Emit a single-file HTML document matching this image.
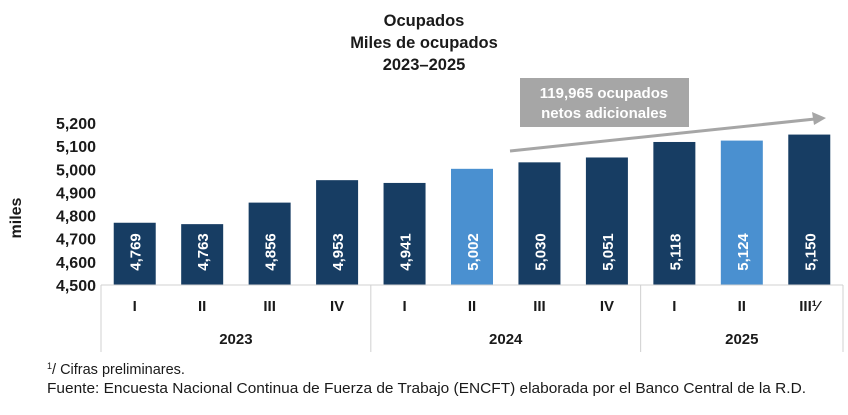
<!DOCTYPE html>
<html><head><meta charset="utf-8"><style>
body{margin:0;background:#fff;font-family:"Liberation Sans",Arial,sans-serif}
svg text{font-family:"Liberation Sans",Arial,sans-serif}
</style></head><body>
<svg width="848" height="410" viewBox="0 0 848 410">
<g font-weight="bold" font-size="16.5" fill="#1a1a1a" text-anchor="middle">
<text x="424" y="26">Ocupados</text>
<text x="424" y="48">Miles de ocupados</text>
<text x="424" y="70">2023–2025</text>
</g>
<text transform="translate(21,218) rotate(-90)" text-anchor="middle" font-weight="bold" font-size="16" fill="#1a1a1a">miles</text>
<g id="yticks"></g>
<g id="bars"></g>
<g id="xaxis"></g>
<g>
<line x1="510" y1="151" x2="815" y2="119" stroke="#a6a6a6" stroke-width="3"/>
<polygon points="826,118 812,112 814,125" fill="#a6a6a6"/>
<rect x="520" y="78" width="169" height="49" fill="#a6a6a6"/>
<text x="604" y="98" text-anchor="middle" font-weight="bold" font-size="15" fill="#fff">119,965 ocupados</text>
<text x="604" y="118" text-anchor="middle" font-weight="bold" font-size="15" fill="#fff">netos adicionales</text>
</g>
<g font-size="14.5" fill="#1a1a1a">
<text x="47" y="374"><tspan font-size="9" dy="-5">1</tspan><tspan dy="5">/ Cifras preliminares.</tspan></text>
<text x="47" y="393" textLength="759" lengthAdjust="spacingAndGlyphs">Fuente: Encuesta Nacional Continua de Fuerza de Trabajo (ENCFT) elaborada por el Banco Central de la R.D.</text>
</g>
</svg>
<script>
const categories=["I","II","III","IV","I","II","III","IV","I","II","III¹⁄"];
const values=[4769,4763,4856,4953,4941,5002,5030,5051,5118,5124,5150];
const highlight=[false,false,false,false,false,true,false,false,false,true,false];
const years=["2023","2024","2025"];
const yearCounts=[4,4,3];
const yTicks=[4500,4600,4700,4800,4900,5000,5100,5200];
const NS="http://www.w3.org/2000/svg";
const x0=101,x1=843,yMin=4500,yMax=5200,pyBot=285,pyTop=123;
const slot=(x1-x0)/values.length;
const y=v=>pyBot-(v-yMin)/(yMax-yMin)*(pyBot-pyTop);
const xc=i=>x0+slot*(i+0.5);
function mk(t,a,p){const e=document.createElementNS(NS,t);for(const k in a)e.setAttribute(k,a[k]);p.appendChild(e);return e;}
const yt=document.getElementById('yticks');
yTicks.forEach(v=>{const t=mk('text',{x:96,y:y(v)+6,'text-anchor':'end','font-size':16,'font-weight':'bold',fill:'#1a1a1a'},yt);


t.textContent=v.toLocaleString('en-US');});
const bg=document.getElementById('bars');
values.forEach((v,i)=>{const w=42;
const r=mk('rect',{x:xc(i)-w/2,y:y(v),width:w,height:pyBot-y(v),fill:highlight[i]?'#4a90d0':'#173d63'},bg);


const t=mk('text',{transform:`translate(${xc(i)+6},${pyBot-33}) rotate(-90)`,'text-anchor':'middle','font-size':15,'font-weight':'bold',fill:'#fff'},bg);


t.textContent=v.toLocaleString('en-US');});
const xa=document.getElementById('xaxis');
mk('line',{x1:x0,y1:pyBot,x2:x1,y2:pyBot,stroke:'#d0d0d0','stroke-width':1},xa);
categories.forEach((c,i)=>{const t=mk('text',{x:xc(i),y:311,'text-anchor':'middle','font-size':15,'font-weight':'bold',fill:'#1a1a1a'},xa);


t.textContent=c;});
let start=0;
mk('line',{x1:x0,y1:pyBot,x2:x0,y2:352,stroke:'#d0d0d0'},xa);
years.forEach((yr,j)=>{const end=start+yearCounts[j];
const xe=x0+slot*end;
mk('line',{x1:xe,y1:pyBot,x2:xe,y2:352,stroke:'#d0d0d0'},xa);
const t=mk('text',{x:(x0+slot*start+xe)/2,y:344,'text-anchor':'middle','font-size':15,'font-weight':'bold',fill:'#1a1a1a'},xa);


t.textContent=yr;start=end;});
</script>
</body></html>
